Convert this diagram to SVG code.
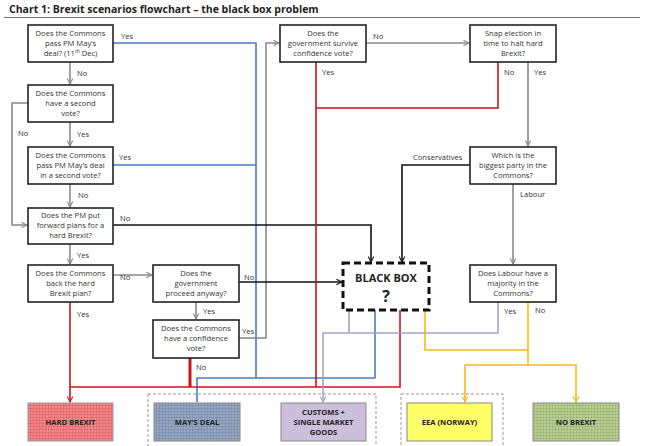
<svg xmlns="http://www.w3.org/2000/svg" width="645" height="446" viewBox="0 0 645 446">
<defs>
<style>
.q{fill:#fff;stroke:#222;stroke-width:1.6}
.t{font-family:"Open Sans","Liberation Sans",sans-serif;font-size:7.6px;fill:#333;text-anchor:middle}
.l{font-family:"Open Sans","Liberation Sans",sans-serif;font-size:7.6px;fill:#333}
.o{font-family:"Open Sans","Liberation Sans",sans-serif;font-size:7.6px;font-weight:bold;fill:#222;text-anchor:middle}
.c path{fill:none;stroke-width:1.6}
.g{stroke:#888}
.k{stroke:#111}
.b{stroke:#4a7cc0}
.r{stroke:#c8161d}
.v{stroke:#a9a1c6}
.y{stroke:#f8b91c}
</style>
<marker id="ag" viewBox="0 0 10 10" refX="9" refY="5" markerWidth="7" markerHeight="7" orient="auto" markerUnits="userSpaceOnUse"><path d="M1,1L9,5L1,9" fill="none" stroke="#888" stroke-width="1.5"/></marker>
<marker id="ak" viewBox="0 0 10 10" refX="9" refY="5" markerWidth="7" markerHeight="7" orient="auto" markerUnits="userSpaceOnUse"><path d="M1,1L9,5L1,9" fill="none" stroke="#111" stroke-width="1.5"/></marker>
<marker id="ab" viewBox="0 0 10 10" refX="9" refY="5" markerWidth="7" markerHeight="7" orient="auto" markerUnits="userSpaceOnUse"><path d="M1,1L9,5L1,9" fill="none" stroke="#4a7cc0" stroke-width="1.5"/></marker>
<marker id="ar" viewBox="0 0 10 10" refX="9" refY="5" markerWidth="7" markerHeight="7" orient="auto" markerUnits="userSpaceOnUse"><path d="M1,1L9,5L1,9" fill="none" stroke="#c8161d" stroke-width="1.5"/></marker>
<marker id="av" viewBox="0 0 10 10" refX="9" refY="5" markerWidth="7" markerHeight="7" orient="auto" markerUnits="userSpaceOnUse"><path d="M1,1L9,5L1,9" fill="none" stroke="#a9a1c6" stroke-width="1.5"/></marker>
<marker id="ay" viewBox="0 0 10 10" refX="9" refY="5" markerWidth="7" markerHeight="7" orient="auto" markerUnits="userSpaceOnUse"><path d="M1,1L9,5L1,9" fill="none" stroke="#f8b91c" stroke-width="1.5"/></marker>
<pattern id="pr" width="3" height="3" patternUnits="userSpaceOnUse"><rect width="3" height="3" fill="#f2878a"/><path d="M0,0H3M0,0V3" stroke="#c94448" stroke-width="0.6"/></pattern>
<pattern id="pb" width="3" height="3" patternUnits="userSpaceOnUse"><rect width="3" height="3" fill="#96a6c2"/><path d="M0,0H3M0,0V3" stroke="#5f7190" stroke-width="0.6"/></pattern>
<pattern id="pn" width="3" height="3" patternUnits="userSpaceOnUse"><rect width="3" height="3" fill="#b9cf92"/><path d="M0,0H3M0,0V3" stroke="#7d9455" stroke-width="0.6"/></pattern>
</defs>
<rect width="645" height="446" fill="#fff"/>
<text x="9" y="13" style="font-family:'Open Sans','Liberation Sans',sans-serif;font-size:10.5px;font-weight:bold;fill:#222">Chart 1: Brexit scenarios flowchart – the black box problem</text>
<line x1="4" y1="17.5" x2="640" y2="17.5" stroke="#777" stroke-width="1"/>
<rect x="148" y="394" width="228" height="56" fill="none" stroke="#999" stroke-dasharray="3,2"/>
<rect x="401" y="394" width="102" height="56" fill="none" stroke="#999" stroke-dasharray="3,2"/>

<g class="c" id="connectors">
<path class="b" d="M113,43H256V378M113,165H256M375,310V378H197V402"/>
<path class="g" d="M70,62V84" marker-end="url(#ag)"/>
<path class="g" d="M70,122V146" marker-end="url(#ag)"/>
<path class="g" d="M70,184V207" marker-end="url(#ag)"/>
<path class="g" d="M28,103H12V225H27" marker-end="url(#ag)"/>
<path class="g" d="M70,244V264" marker-end="url(#ag)"/>
<path class="g" d="M113,275H152" marker-end="url(#ag)"/>
<path class="g" d="M196,302V319" marker-end="url(#ag)"/>
<path class="g" d="M239,338H266V43H279" marker-end="url(#ag)"/>
<path class="g" d="M366,43H469" marker-end="url(#ag)"/>
<path class="g" d="M528,62V146" marker-end="url(#ag)"/>
<path class="g" d="M513,184V264" marker-end="url(#ag)"/>
<path class="k" d="M470,165H402V262" marker-end="url(#ak)"/>
<path class="k" d="M113,225H371V262" marker-end="url(#ak)"/>
<path class="k" d="M239,282H342" marker-end="url(#ak)"/>
<path class="r" d="M70,302V402" marker-end="url(#ar)"/>
<path class="r" d="M70,387H400V310M316,62V387M498,62V108H316"/>
<path class="r" d="M190,358V387" style="stroke-width:3"/>
<path class="v" d="M349,310V333M498,302V333H323V402" marker-end="url(#av)"/>
<path class="y" d="M425,310V350H528M528,302V365"/>
<path class="y" d="M528,365H465V402" marker-end="url(#ay)"/>
<path class="y" d="M528,365H576V402" marker-end="url(#ay)"/>
</g>

<g id="A"><rect class="q" x="28" y="25" width="85" height="37"/><text class="t" x="70.5" y="36">Does the Commons</text><text class="t" x="70.5" y="46">pass PM May’s</text><text class="t" x="70.5" y="56">deal? (11<tspan font-size="5" dy="-3">th</tspan><tspan dy="3"> Dec)</tspan></text></g>
<g id="B"><rect class="q" x="28" y="85" width="85" height="37"/><text class="t" x="70.5" y="96">Does the Commons</text><text class="t" x="70.5" y="106">have a second</text><text class="t" x="70.5" y="116">vote?</text></g>
<g id="C"><rect class="q" x="28" y="147" width="85" height="37"/><text class="t" x="70.5" y="158">Does the Commons</text><text class="t" x="70.5" y="168">pass PM May’s deal</text><text class="t" x="70.5" y="178">in a second vote?</text></g>
<g id="D"><rect class="q" x="28" y="208" width="85" height="36"/><text class="t" x="70.5" y="218">Does the PM put</text><text class="t" x="70.5" y="228">forward plans for a</text><text class="t" x="70.5" y="238">hard Brexit?</text></g>
<g id="E"><rect class="q" x="28" y="265" width="85" height="37"/><text class="t" x="70.5" y="276">Does the Commons</text><text class="t" x="70.5" y="286">back the hard</text><text class="t" x="70.5" y="296">Brexit plan?</text></g>
<g id="F"><rect class="q" x="153" y="265" width="86" height="37"/><text class="t" x="196" y="276">Does the</text><text class="t" x="196" y="286">government</text><text class="t" x="196" y="296">proceed anyway?</text></g>
<g id="G"><rect class="q" x="153" y="320" width="86" height="38"/><text class="t" x="196" y="331">Does the Commons</text><text class="t" x="196" y="341">have a confidence</text><text class="t" x="196" y="351">vote?</text></g>
<g id="H"><rect class="q" x="280" y="25" width="86" height="37"/><text class="t" x="323" y="36">Does the</text><text class="t" x="323" y="46">government survive</text><text class="t" x="323" y="56">confidence vote?</text></g>
<g id="I"><rect class="q" x="470" y="25" width="86" height="37"/><text class="t" x="513" y="36">Snap election in</text><text class="t" x="513" y="46">time to halt hard</text><text class="t" x="513" y="56">Brexit?</text></g>
<g id="J"><rect class="q" x="470" y="147" width="86" height="37"/><text class="t" x="513" y="158">Which is the</text><text class="t" x="513" y="168">biggest party in the</text><text class="t" x="513" y="178">Commons?</text></g>
<g id="L"><rect class="q" x="470" y="265" width="86" height="37"/><text class="t" x="513" y="276">Does Labour have a</text><text class="t" x="513" y="286">majority in the</text><text class="t" x="513" y="296">Commons?</text></g>
<g id="K"><rect x="343" y="263" width="86" height="47" fill="#fff" stroke="#111" stroke-width="3" stroke-dasharray="7,4"/><text class="o" x="386" y="282" style="font-size:11px">BLACK BOX</text><text class="o" x="386" y="302" style="font-size:16px">?</text></g>

<g id="O1"><rect x="28" y="403" width="85" height="38" fill="url(#pr)" stroke="#999"/><text class="o" x="70.5" y="425">HARD BREXIT</text></g>
<g id="O2"><rect x="154" y="403" width="86" height="38" fill="url(#pb)" stroke="#888"/><text class="o" x="197" y="425">MAY’S DEAL</text></g>
<g id="O3"><rect x="281" y="403" width="85" height="38" fill="#cbbfdc" stroke="#888"/><text class="o" x="323.5" y="415">CUSTOMS +</text><text class="o" x="323.5" y="425">SINGLE MARKET</text><text class="o" x="323.5" y="435">GOODS</text></g>
<g id="O4"><rect x="407" y="403" width="85" height="38" fill="#ffff66" stroke="#888"/><text class="o" x="449.5" y="425">EEA (NORWAY)</text></g>
<g id="O5"><rect x="533" y="403" width="86" height="38" fill="url(#pn)" stroke="#888"/><text class="o" x="576" y="425">NO BREXIT</text></g>

<g id="labels">
<text class="l" x="121" y="39">Yes</text>
<text class="l" x="77" y="76">No</text>
<text class="l" x="18" y="136">No</text>
<text class="l" x="77" y="137">Yes</text>
<text class="l" x="119" y="160">Yes</text>
<text class="l" x="78" y="198">No</text>
<text class="l" x="120" y="221">No</text>
<text class="l" x="77" y="258">Yes</text>
<text class="l" x="120" y="280">No</text>
<text class="l" x="77" y="317">Yes</text>
<text class="l" x="244" y="280">No</text>
<text class="l" x="203" y="314">Yes</text>
<text class="l" x="242" y="334">Yes</text>
<text class="l" x="196" y="370">No</text>
<text class="l" x="373" y="39">No</text>
<text class="l" x="322" y="75">Yes</text>
<text class="l" x="504" y="75">No</text>
<text class="l" x="534" y="75">Yes</text>
<text class="l" x="413" y="160">Conservatives</text>
<text class="l" x="520" y="197">Labour</text>
<text class="l" x="504" y="314">Yes</text>
<text class="l" x="535" y="313">No</text>
</g>
</svg>
